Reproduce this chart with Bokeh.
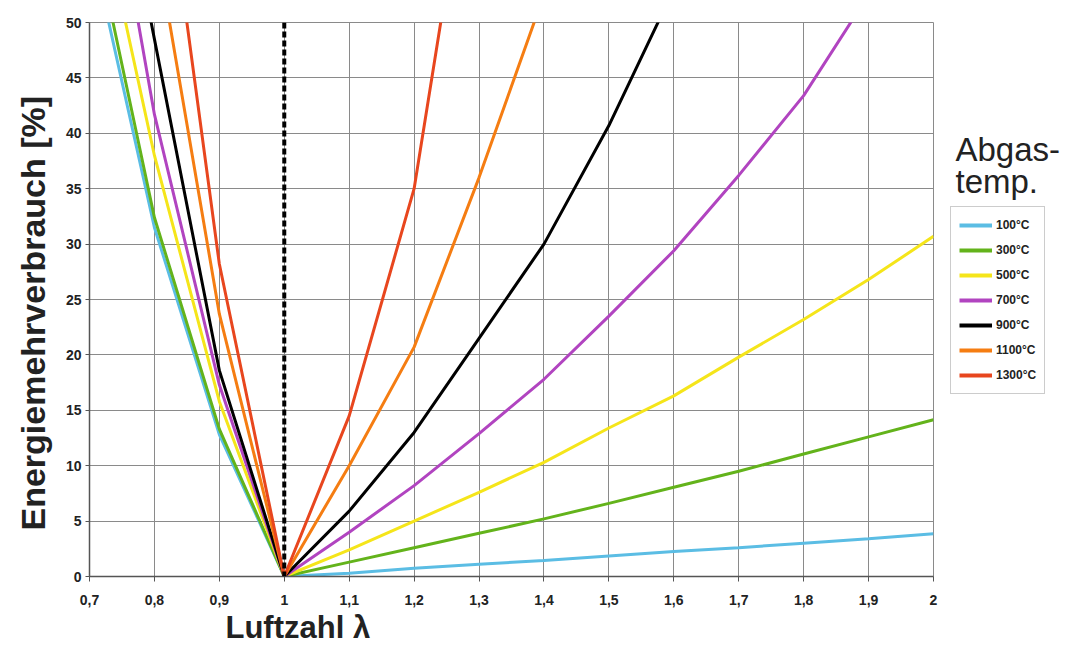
from bokeh.plotting import figure
from bokeh.layouts import row
from bokeh.models import (Range1d, FixedTicker, Span, Legend, LegendItem, Label, Title)
from bokeh.embed import file_html
from bokeh.resources import INLINE

nan = float("nan")

# ---- data ----
lam = [0.7, 0.8, 0.9, 1.0, 1.1, 1.2, 1.3, 1.4, 1.5, 1.6, 1.7, 1.8, 1.9, 2.0]
t100 = [57.8, 31.5, 12.8, 0, 0.3, 0.75, 1.1, 1.45, 1.85, 2.25, 2.6, 3.0, 3.4, 3.85]
t300 = [60.0, 32.4, 13.3, 0, 1.3, 2.6, 3.9, 5.2, 6.6, 8.05, 9.5, 11.05, 12.6, 14.15]
t500 = [65.0, 38.0, 15.8, 0, 2.4, 5.0, 7.6, 10.3, 13.4, 16.3, 19.8, 23.2, 26.8, 30.7]
t700 = [75.0, 41.7, 17.3, 0, 4.0, 8.2, 12.9, 17.8, 23.5, 29.4, 36.2, 43.4, 52.5, 61.0]
t900 = [78.5, 48.5, 18.6, 0, 5.9, 13.0, 21.5, 30.0, 40.7, 53.0, nan, nan, nan, nan]
t1100 = [nan, 58.0, 23.7, 0, 10.0, 20.7, 36.0, 52.5, nan, nan, nan, nan, nan, nan]
t1300 = [nan, 71.8, 28.2, 0, 14.5, 35.0, 71.6, nan, nan, nan, nan, nan, nan, nan]

series_labels = ["100°C", "300°C", "500°C", "700°C", "900°C", "1100°C", "1300°C"]
series_values = [t100, t300, t500, t700, t900, t1100, t1300]
series_colors = ["#5bbde4", "#63b31b", "#f5e51a", "#b144c0", "#000000", "#f57d12", "#e8461e"]

x_ticks = [0.7, 0.8, 0.9, 1.0, 1.1, 1.2, 1.3, 1.4, 1.5, 1.6, 1.7, 1.8, 1.9, 2.0]
x_tick_labels = ["0,7", "0,8", "0,9", "1", "1,1", "1,2", "1,3", "1,4", "1,5", "1,6", "1,7", "1,8", "1,9", "2"]
y_ticks = [0, 5, 10, 15, 20, 25, 30, 35, 40, 45, 50]
ref_lambda = 1.0

FONT = "Liberation Sans"
TXT = "#222222"

p = figure(width=943, height=646, output_backend="svg", toolbar_location=None,
           x_range=Range1d(0.7, 2.0), y_range=Range1d(0, 50),
           min_border_left=89, min_border_right=10, min_border_top=22, min_border_bottom=70)
p.background_fill_color = "white"
p.border_fill_color = "white"
p.outline_line_color = "#8a8a8a"
p.outline_line_width = 1

p.xaxis.ticker = FixedTicker(ticks=x_ticks)
p.xaxis.major_label_overrides = {t: s for t, s in zip(x_ticks, x_tick_labels)}
p.yaxis.ticker = FixedTicker(ticks=y_ticks)
for ax in (p.xaxis, p.yaxis):
    ax.axis_line_color = "#555555"
    ax.axis_line_width = 1.5
    ax.major_tick_line_color = "#555555"
    ax.minor_tick_line_color = None
    ax.major_tick_in = 0
    ax.major_label_text_font = FONT
    ax.major_label_text_font_style = "bold"
    ax.major_label_text_font_size = "14px"
    ax.major_label_text_color = TXT
p.xaxis.major_tick_out = 5
p.xaxis.major_label_standoff = 13
p.yaxis.major_tick_out = 4
p.yaxis.major_label_standoff = 4

p.xgrid.ticker = FixedTicker(ticks=x_ticks)
p.ygrid.ticker = FixedTicker(ticks=y_ticks)
p.grid.grid_line_color = "#8a8a8a"
p.grid.grid_line_width = 1
p.grid.grid_line_alpha = 1.0

for lab, vals, col in zip(series_labels, series_values, series_colors):
    p.line(lam, vals, line_color=col, line_width=3)

p.add_layout(Span(location=ref_lambda, dimension="height", line_color="black",
                  line_width=4, line_dash="6 3"))

p.add_layout(Title(text="Luftzahl λ", align="left", offset=136, standoff=0,
                   text_font=FONT, text_font_size="31px", text_font_style="bold",
                   text_color=TXT), "below")
p.add_layout(Title(text="Energiemehrverbrauch [%]", align="left", offset=46, standoff=22,
                   text_font=FONT, text_font_size="34px", text_font_style="bold",
                   text_color=TXT), "left")

# ---- right-hand panel: legend title and legend ----
# the panel's x range lies far right of the data, so the series (drawn again
# here only to feed the legend) stay outside its visible area
X0 = 10
p2 = figure(width=123, height=646, output_backend="svg", toolbar_location=None,
            x_range=Range1d(X0, X0 + 123), y_range=Range1d(646, 0),
            x_axis_location=None, y_axis_location=None,
            min_border_left=0, min_border_right=0, min_border_top=0, min_border_bottom=0)
p2.outline_line_color = None
p2.grid.visible = False
p2.background_fill_color = "white"
p2.border_fill_color = "white"

items = []
for lab, vals, col in zip(series_labels, series_values, series_colors):
    r = p2.line(lam, vals, line_color=col, line_width=4)
    items.append(LegendItem(label=lab, renderers=[r]))

legend = Legend(items=items, location=(7, 182))
legend.label_text_font = FONT
legend.label_text_font_style = "bold"
legend.label_text_font_size = "12px"
legend.label_text_color = TXT
legend.glyph_width = 33
legend.glyph_height = 20
legend.label_height = 20
legend.label_standoff = 4
legend.spacing = 5
legend.padding = 8
legend.margin = 0
legend.border_line_color = "#999999"
legend.border_line_width = 1
legend.background_fill_color = "white"
p2.add_layout(legend, "center")

p2.add_layout(Label(x=X0 + 12, y=148, text="Abgas-", text_font=FONT, text_font_size="33px",
                    text_baseline="middle", text_align="left", text_color=TXT))
p2.add_layout(Label(x=X0 + 12, y=185, text="temp.", text_font=FONT, text_font_size="33px",
                    text_baseline="middle", text_align="left", text_color=TXT))

layout = row(p, p2, spacing=0)
open("out.html", "w").write(file_html(layout, INLINE))
